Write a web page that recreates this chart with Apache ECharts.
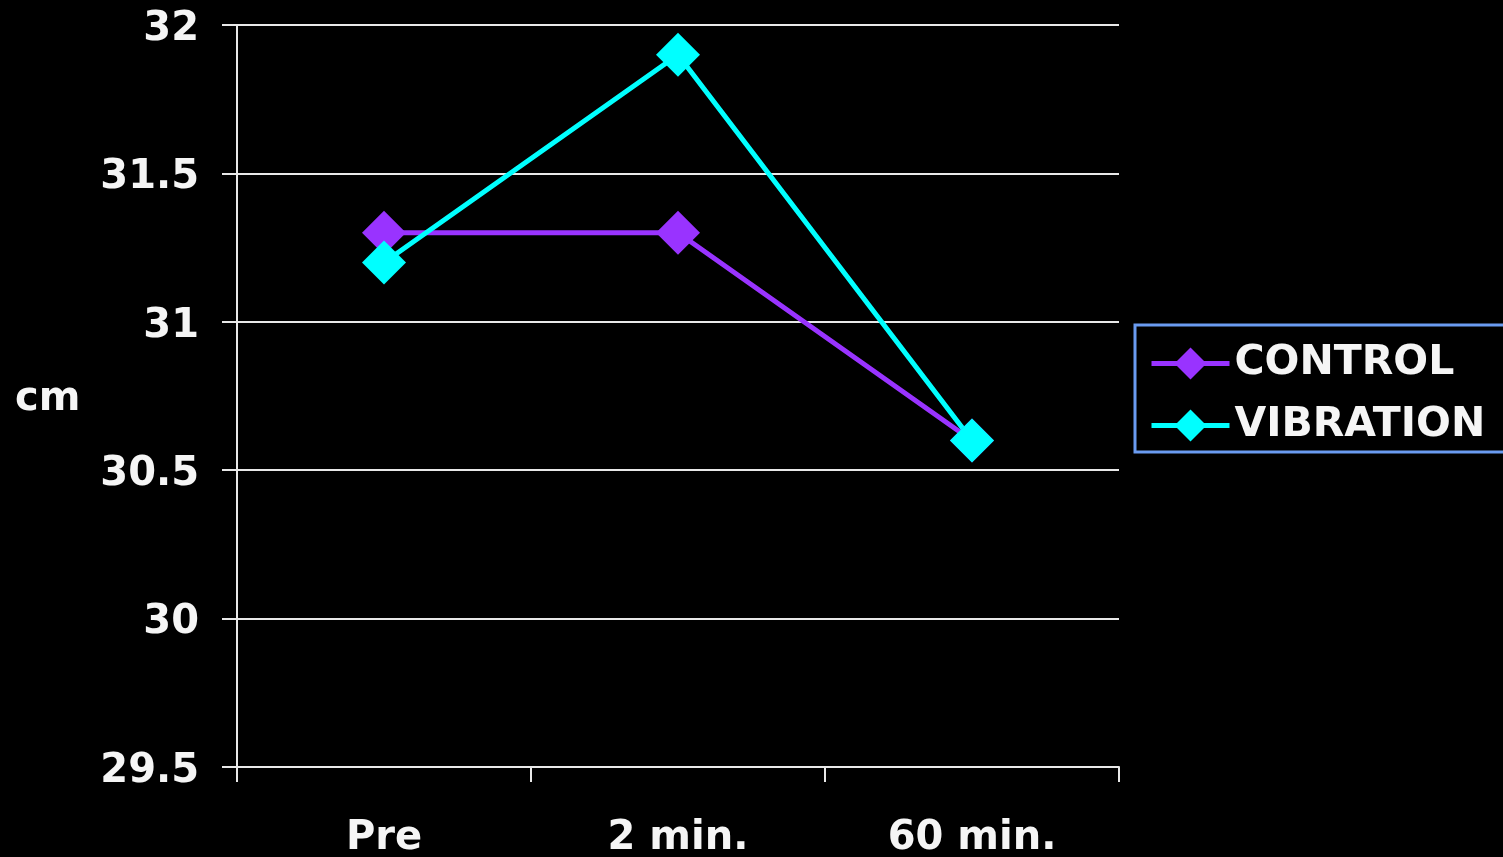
<!DOCTYPE html>
<html><head><meta charset="utf-8">
<script src="https://cdn.jsdelivr.net/npm/echarts@6/dist/echarts.min.js"></script>
<style>html,body{margin:0;padding:0;background:#000;}#c{width:1503px;height:857px;}</style>
</head><body><div id="c"></div>
<script>
const categories = ['Pre', '2 min.', '60 min.'];
const controlValues = [31.3, 31.3, 30.6];
const vibrationValues = [31.2, 31.9, 30.6];
const yAxisName = 'cm';

const FONT = '"DejaVu Sans", sans-serif';
const chart = echarts.init(document.getElementById('c'));
chart.setOption({
  backgroundColor: '#000',
  animation: false,
  grid: { left: 237, right: 384, top: 25, bottom: 90, outerBoundsMode: 'none', containLabel: false },
  legend: {
    orient: 'vertical',
    left: 1135, top: 325,
    padding: [18, 30, 6, 14],
    itemGap: 21,
    itemWidth: 78, itemHeight: 40,
    borderColor: '#6a9bf0', borderWidth: 3,
    lineStyle: { width: 5 },
    textStyle: { color: '#f5f5f5', fontFamily: FONT, fontWeight: 'bold', fontSize: 41 },
    data: ['CONTROL', 'VIBRATION']
  },
  xAxis: {
    type: 'category',
    data: categories,
    boundaryGap: true,
    axisLine: { lineStyle: { color: '#e8e8e8', width: 2 } },
    axisTick: { show: true, length: 15, lineStyle: { color: '#e8e8e8', width: 2 } },
    axisLabel: { color: '#f5f5f5', fontFamily: FONT, fontWeight: 'bold', fontSize: 40, margin: 52 }
  },
  yAxis: {
    type: 'value',
    min: 29.5, max: 32, interval: 0.5,
    axisLine: { show: true, lineStyle: { color: '#e8e8e8', width: 2 } },
    axisTick: { show: true, length: 15, lineStyle: { color: '#e8e8e8', width: 2 } },
    splitLine: { lineStyle: { color: '#e8e8e8', width: 2 } },
    axisLabel: {
      margin: 38,
      formatter: '{a|{value}}',
      rich: { a: { color: '#f5f5f5', fontFamily: FONT, fontWeight: 'bold', fontSize: 40, padding: [9, 0, 0, 0] } }
    }
  },
  graphic: [{
    type: 'text', left: 15, top: 380,
    style: { text: yAxisName, fill: '#f5f5f5', font: 'bold 40px ' + FONT }
  }],
  series: [
    {
      name: 'CONTROL', type: 'line', data: controlValues,
      symbol: 'diamond', symbolSize: 44,
      lineStyle: { color: '#9933ff', width: 5 },
      itemStyle: { color: '#9933ff' }
    },
    {
      name: 'VIBRATION', type: 'line', data: vibrationValues,
      symbol: 'diamond', symbolSize: 44,
      lineStyle: { color: '#00ffff', width: 5 },
      itemStyle: { color: '#00ffff' }
    }
  ]
});
</script></body></html>
